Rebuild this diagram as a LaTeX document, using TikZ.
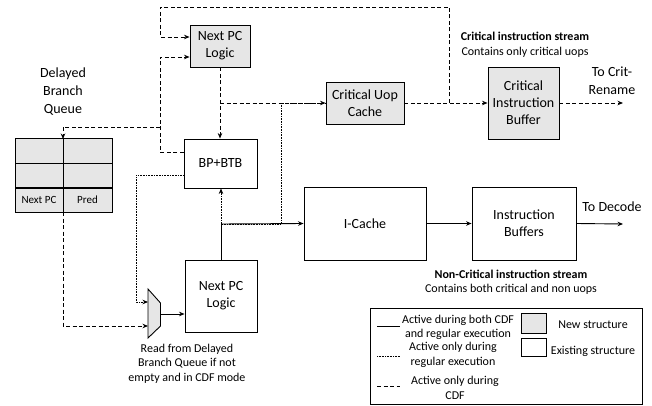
\documentclass[tikz,border=0pt]{standalone}
\usepackage{fontspec}
\setmainfont{Carlito}
\usetikzlibrary{arrows.meta}
\definecolor{newgray}{RGB}{230,230,230}
\tikzset{
  x=1pt, y=-1pt,
  blk/.style={draw, line width=0.9pt, align=center, inner sep=0pt, font=\fontsize{14}{17}\selectfont},
  newblk/.style={blk, fill=newgray},
  tip/.style={-{Stealth[length=5.5pt,width=4.5pt]}},
  both/.style={line width=0.9pt},
  cdf/.style={line width=0.9pt, dash pattern=on 4pt off 2.5pt},
  reg/.style={line width=0.8pt, dash pattern=on 0.8pt off 0.8pt},
  lbl/.style={align=center, inner sep=0pt, font=\fontsize{12}{14.5}\selectfont},
  biglbl/.style={align=center, inner sep=0pt, font=\fontsize{14}{18}\selectfont},
  cell/.style={draw, line width=0.9pt, fill=newgray, inner sep=0pt, font=\fontsize{11}{13}\selectfont},
}
\begin{document}
\begin{tikzpicture}
\useasboundingbox (0,0) rectangle (652,406);

% blocks
\node[newblk, minimum width=60pt, minimum height=42pt] (npcT) at (220,46) {Next PC\\Logic};
\node[blk, minimum width=73pt, minimum height=49pt] (bp) at (220.5,163.5) {BP+BTB};
\node[blk, minimum width=72pt, minimum height=72pt] (npcB) at (221,296) {Next PC\\Logic};
\node[newblk, minimum width=78pt, minimum height=42pt] (cuc) at (365,103) {Critical Uop\\Cache};
\node[newblk, minimum width=71pt, minimum height=72pt] (cib) at (523.5,103) {Critical\\Instruction\\Buffer};
\node[blk, minimum width=122pt, minimum height=73pt] (ic) at (365,223.5) {I-Cache};
\node[blk, minimum width=104pt, minimum height=73pt] (ib) at (524,223.5) {Instruction\\Buffers};

% delayed branch queue table
\node[biglbl] (dbqlbl) at (63,92) {Delayed\\Branch\\Queue};
\node[cell, minimum width=48pt, minimum height=24.5pt] (q11) at (39,151) {};
\node[cell, minimum width=49pt, minimum height=24.5pt] (q12) at (87.5,151) {};
\node[cell, minimum width=48pt, minimum height=24.5pt] (q21) at (39,175.5) {};
\node[cell, minimum width=49pt, minimum height=24.5pt] (q22) at (87.5,175.5) {};
\node[cell, minimum width=48pt, minimum height=24pt] (q31) at (39,200) {Next PC};
\node[cell, minimum width=49pt, minimum height=24pt] (q32) at (87.5,200) {Pred};

% multiplexer
\coordinate (muxA) at (148,289);
\coordinate (muxB) at (160.5,303);
\coordinate (muxC) at (160.5,326);
\coordinate (muxD) at (148,338);
\draw[line width=0.9pt, fill=newgray] (muxA) -- (muxB) -- (muxC) -- (muxD) -- cycle;
\coordinate (muxout) at (160.5,314);
\coordinate (muxin1) at (148,302);
\coordinate (muxin2) at (148,326);
\node[lbl] (muxlbl) at (187,363.5) {Read from Delayed\\Branch Queue if not\\empty and in CDF mode};

% junction points
\coordinate (jA) at (220,103);
\coordinate (jB) at (221,224);
\coordinate (jC) at (281,224);
\coordinate (jD) at (449,103);
\coordinate (jE) at (160,127);
\coordinate (out1) at (623,103);
\coordinate (out2) at (623,224);

% regular-execution paths (dotted)
\draw[reg, tip] (bp.west |- 0,175) -| (136,302) -- (muxin1);
\draw[reg, tip] (jB) -- (bp.south -| jB);
\draw[reg] (jC) -- (281,103) -- (cuc.west);

% CDF-only paths (dashed)
\draw[cdf, tip] (npcT.south) -- (bp.north -| npcT.south);
\draw[cdf, tip] (jA) -- (cuc.west);
\draw[cdf, tip] (cuc.east) -- (cib.west);
\draw[cdf, tip] (cib.east) -- (out1);
\draw[cdf, tip] (jD) -- (449,7) -| (160,37) -- (npcT.west |- 0,37);
\draw[cdf, tip] (bp.west |- 0,152) -| (160,57) -- (npcT.west |- 0,57);
\draw[cdf, tip] (jE) -| (63,139);
\draw[cdf, tip] (63,212) |- (muxin2);
\draw[line width=0.9pt] (63,139) -- (63,212);

% always-active paths (solid)
\draw[both, tip] (muxout) -- (npcB.west |- muxout);
\draw[both] (npcB.north) -- (jB);
\draw[both, tip] (jB) -- (ic.west);
\draw[reg] (npcB.north) -- (jB) -- (jC);
\draw[both, tip] (ic.east) -- (ib.west);
\draw[both, tip] (ib.east) -- (out2);

% output labels
\node[biglbl] (tcr) at (612,81) {To Crit-\\Rename};
\node[biglbl] (tdc) at (612,207) {To Decode};
\node[lbl] (cs) at (525,45) {\textbf{Critical instruction stream}\\Contains only critical uops};
\node[lbl] (ncs) at (511,282) {\textbf{Non-Critical instruction stream}\\Contains both critical and non uops};

% legend
\node[draw, line width=0.9pt, minimum width=272pt, minimum height=96pt, inner sep=0pt] (leg) at (506,356) {};
\draw[both] (377,326) -- (400,326);
\draw[reg] (377,356) -- (400,356);
\draw[cdf] (377,386) -- (400,386);
\node[lbl] (l1) at (458,327.5) {Active during both CDF\\and regular execution};
\node[lbl] (l2) at (453,355) {Active only during\\regular execution};
\node[lbl] (l3) at (455,388) {Active only during\\CDF};
\node[draw, line width=0.9pt, fill=newgray, minimum width=25pt, minimum height=20pt, inner sep=0pt] (sw1) at (533.5,323) {};
\node[draw, line width=0.9pt, minimum width=25pt, minimum height=18pt, inner sep=0pt] (sw2) at (533.5,347) {};
\node[lbl] (l4) at (593,325) {New structure};
\node[lbl] (l5) at (593,351) {Existing structure};
\end{tikzpicture}
\end{document}
